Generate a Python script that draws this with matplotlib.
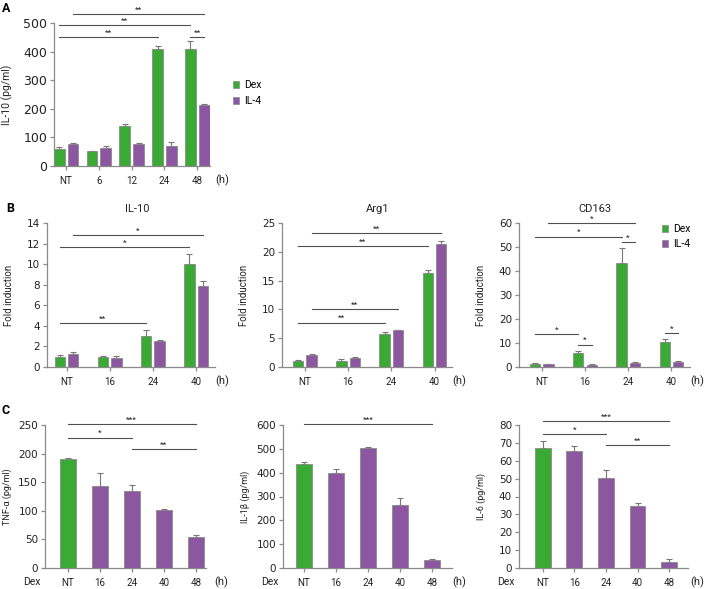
import matplotlib
matplotlib.use('Agg')
import matplotlib.pyplot as plt
from matplotlib.patches import Patch
import numpy as np

plt.rcParams['font.family'] = ['Roboto', 'DejaVu Sans']

W, H = 705, 589
GREEN = '#3aaa35'
PURPLE = '#8c56a0'
EDGE = '#8a8a8a'
LINE = '#505050'
TXT = '#222222'

# ---- panel A data (IL-10 protein) ----
a_cats = ['NT', '6', '12', '24', '48']
a_dex = [59, 52, 139, 408, 410]
a_dex_err = [7, 2, 7, 12, 27]
a_il4 = [76, 62, 77, 70, 212]
a_il4_err = [6, 7, 2, 15, 6]
a_sig = [((0, 'd'), (3, 'd'), 451, '**'), ((0, 'd'), (4, 'd'), 492, '**'),
         ((0, 'i'), (4, 'i'), 530, '**'), ((4, 'd'), (4, 'i'), 451, '**')]

# ---- panel B data (fold induction) ----
b_cats = ['NT', '16', '24', '40']
b_titles = ['IL-10', 'Arg1', 'CD163']
b_dex = [[0.98, 0.94, 3.0, 9.97], [0.99, 1.1, 5.76, 16.3], [1.26, 6.0, 43.5, 10.5]]
b_dex_err = [[0.22, 0.16, 0.58, 1.0], [0.17, 0.3, 0.4, 0.6], [0.4, 0.8, 6.0, 1.2]]
b_il4 = [[1.24, 0.91, 2.54, 7.9], [2.15, 1.5, 6.34, 21.3], [1.1, 1.0, 1.7, 2.1]]
b_il4_err = [[0.26, 0.13, 0.1, 0.47], [0.15, 0.24, 0.16, 0.6], [0.3, 0.25, 0.25, 0.4]]
b_ymax = [14, 25, 60]
b_ystep = [2, 5, 10]
b_sig = [
    [((0, 'd'), (2, 'd'), 4.23, '**'), ((0, 'd'), (3, 'd'), 11.66, '*'),
     ((0, 'i'), (3, 'i'), 12.8, '*')],
    [((0, 'd'), (2, 'd'), 7.67, '**'), ((0, 'i'), (2, 'i'), 10.0, '**'),
     ((0, 'd'), (3, 'd'), 21.0, '**'), ((0, 'i'), (3, 'i'), 23.2, '**')],
    [((0, 'd'), (1, 'd'), 13.7, '*'), ((1, 'd'), (1, 'i'), 9.3, '*'),
     ((0, 'd'), (2, 'd'), 54.3, '*'), ((0, 'i'), (2, 'i'), 59.8, '*'),
     ((2, 'd'), (2, 'i'), 52.1, '*'), ((3, 'd'), (3, 'i'), 14.2, '*')],
]

# ---- panel C data (cytokines after Dex) ----
c_cats = ['NT', '16', '24', '40', '48']
c_labels = ['TNF-\u03b1 (pg/ml)', 'IL-1\u03b2 (pg/ml)', 'IL-6 (pg/ml)']
c_vals = [[191, 144, 134, 102, 55], [436, 398, 502, 265, 32], [66.9, 65.2, 50.5, 34.8, 3.5]]
c_err = [[1, 22, 11, 2, 3], [10, 16, 4, 28, 4], [4.3, 3.3, 4.5, 1.4, 1.3]]
c_ymax = [250, 600, 80]
c_ystep = [50, 100, 10]
c_sig = [
    [(0, 4, 251.7, '***'), (0, 2, 228, '*'), (2, 4, 207.6, '**')],
    [(0, 4, 604, '***')],
    [(0, 4, 82, '***'), (0, 2, 75, '*'), (2, 4, 68.7, '**')],
]

fig = plt.figure(figsize=(W / 100, H / 100), dpi=100)


def add_ax(left, top, right, bottom):
    return fig.add_axes([left / W, 1 - bottom / H, (right - left) / W, (bottom - top) / H])


def style(ax, ymax, ystep, cats, xlim, ylabel, label_px, left_px, right_px, h_px,
          ytick_size=7.5, ylab_size=7):
    for s in ['top', 'right']:
        ax.spines[s].set_visible(False)
    for s in ['left', 'bottom']:
        ax.spines[s].set_color(EDGE)
        ax.spines[s].set_linewidth(0.9)
    ax.set_ylim(0, ymax)
    ax.set_yticks(np.arange(0, ymax + ystep / 2, ystep))
    ax.set_xticks(range(len(cats)))
    ax.set_xticklabels(cats)
    ax.set_xlim(*xlim)
    ax.tick_params(axis='both', colors=EDGE, labelcolor=TXT, length=3, width=0.9)
    ax.tick_params(axis='y', labelsize=ytick_size, pad=2)
    for t in ax.get_yticklabels():
        t.set_fontfamily('DejaVu Sans')
    ax.tick_params(axis='x', labelsize=7, pad=4)
    ax.set_ylabel(ylabel, fontsize=ylab_size, color=TXT)
    ax.yaxis.set_label_coords((label_px - left_px) / (right_px - left_px), 0.5)
    ax.annotate('(h)', xy=(1, 0), xycoords='axes fraction', xytext=(h_px - right_px, -14),
                textcoords='offset pixels', fontsize=8, color=TXT, ha='center', va='center')


def grouped(ax, dex, dex_err, il4, il4_err, off, width):
    x = np.arange(len(dex))
    ax.bar(x - off, dex, width, color=GREEN, edgecolor=EDGE, linewidth=0.6, zorder=2)
    ax.bar(x + off, il4, width, color=PURPLE, edgecolor=EDGE, linewidth=0.6, zorder=2)
    ax.errorbar(x - off, dex, yerr=[np.zeros(len(dex)), dex_err], fmt='none',
                ecolor='#777777', elinewidth=0.8, capsize=2, capthick=0.8, zorder=1)
    ax.errorbar(x + off, il4, yerr=[np.zeros(len(il4)), il4_err], fmt='none',
                ecolor='#777777', elinewidth=0.8, capsize=2, capthick=0.8, zorder=1)


def sig_line(ax, x1, x2, y, label, ymax):
    ax.plot([x1, x2], [y, y], color=LINE, lw=0.8, clip_on=False)
    ax.text((x1 + x2) / 2, y + ymax * 0.01, label, ha='center', va='bottom',
            fontsize=6, color=TXT, clip_on=False)


def pos(g, s, off):
    return g - off if s == 'd' else g + off


def legend_handles():
    return [Patch(facecolor=GREEN, edgecolor=EDGE, lw=0.5),
            Patch(facecolor=PURPLE, edgecolor=EDGE, lw=0.5)]


# ---- A ----
axA = add_ax(54, 23, 210, 166)
offA = 0.21
grouped(axA, a_dex, a_dex_err, a_il4, a_il4_err, offA, 0.33)
style(axA, 500, 100, a_cats, (-0.37, 4.39), 'IL-10 (pg/ml)', 13, 54, 210, 222,
      ytick_size=9, ylab_size=7.5)
for p1, p2, y, lab in a_sig:
    sig_line(axA, pos(*p1, offA), pos(*p2, offA), y, lab, 500)
fig.text(6 / W, 1 - 8 / H, 'A', fontsize=9, fontweight='bold', ha='center', va='center')
fig.legend(legend_handles(), ['Dex', 'IL-4'], loc='upper left',
           bbox_to_anchor=(233 / W, 1 - 80 / H), frameon=False, fontsize=7.5,
           handlelength=0.6, handleheight=0.6, handletextpad=0.5, labelspacing=0.6,
           borderpad=0, borderaxespad=0)

# ---- B ----
b_boxes = [(47, 215, 66.5, 222), (282, 452, 304.9, 459), (519, 690, 541.8, 697)]
b_title_x = [1.63, 1.68, 1.23]
offB = 0.155
for i in range(3):
    left, right, t0, hx = b_boxes[i]
    sp = 43.2
    ax = add_ax(left, 223, right, 367)
    grouped(ax, b_dex[i], b_dex_err[i], b_il4[i], b_il4_err[i], offB, 0.24)
    xl = (-(t0 - left) / sp, 3 + (right - (t0 + 3 * sp)) / sp)
    style(ax, b_ymax[i], b_ystep[i], b_cats, xl, 'Fold induction', left - 33, left, right, hx)
    for p1, p2, y, lab in b_sig[i]:
        sig_line(ax, pos(*p1, offB), pos(*p2, offB), y, lab, b_ymax[i])
    ax.text(b_title_x[i], b_ymax[i] * 1.1, b_titles[i], ha='center', va='center',
            fontsize=8, color=TXT)
    if i == 2:
        ax.legend(legend_handles(), ['Dex', 'IL-4'], loc='upper left',
                  bbox_to_anchor=((662 - left) / (right - left), 0.99),
                  frameon=False, fontsize=7.5, handlelength=0.6, handleheight=0.6,
                  handletextpad=0.5, labelspacing=0.45, borderpad=0, borderaxespad=0)
fig.text(10 / W, 1 - 209 / H, 'B', fontsize=9, fontweight='bold', ha='center', va='center')

# ---- C ----
c_boxes = [(45, 206, 67.7, 32.0, 221), (283, 452, 304, 32.1, 459), (519, 688, 542.7, 31.6, 697)]
for i in range(3):
    left, right, t0, sp, hx = c_boxes[i]
    ax = add_ax(left, 425, right, 568)
    x = np.arange(len(c_vals[i]))
    colors = [GREEN] + [PURPLE] * (len(x) - 1)
    ax.bar(x, c_vals[i], 0.5, color=colors, edgecolor=EDGE, linewidth=0.6, zorder=2)
    ax.errorbar(x, c_vals[i], yerr=[np.zeros(len(x)), c_err[i]], fmt='none',
                ecolor='#777777', elinewidth=0.8, capsize=2, capthick=0.8, zorder=1)
    xl = (-(t0 - left) / sp, 4 + (right - (t0 + 4 * sp)) / sp)
    style(ax, c_ymax[i], c_ystep[i], c_cats, xl, c_labels[i], left - 33, left, right, hx,
          ylab_size=6.5)
    for x1, x2, y, lab in c_sig[i]:
        sig_line(ax, x1, x2, y, lab, c_ymax[i])
    ax.annotate('Dex', xy=(0, 0), xycoords='axes fraction', xytext=(-13, -14),
                textcoords='offset pixels', fontsize=7.5, color=TXT, ha='center', va='center')
fig.text(6 / W, 1 - 410 / H, 'C', fontsize=9, fontweight='bold', ha='center', va='center')

fig.savefig('out.png', dpi=100)
